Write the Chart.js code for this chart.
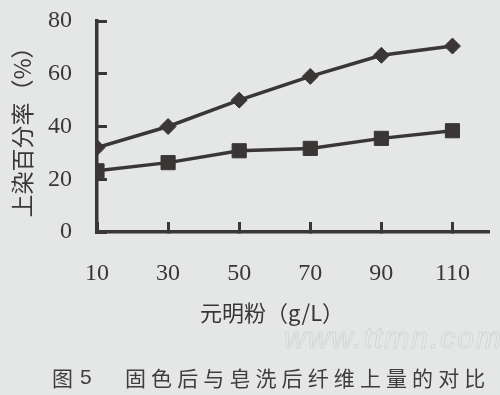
<!DOCTYPE html>
<html>
<head>
<meta charset="utf-8">
<script src="https://cdn.jsdelivr.net/npm/chart.js@4/dist/chart.umd.min.js"></script>
<style>
  html, body { margin: 0; padding: 0; background: #e4e7e6; }
  #wrap { position: relative; width: 500px; height: 395px; }
</style>
</head>
<body>
<div id="wrap"><canvas id="c" width="500" height="395"></canvas></div>
<script>
// ---- data ----
const xValues = [10, 30, 50, 70, 90, 110];
const afterFixing = [32, 40, 50, 59, 67, 70.5];      // diamonds
const afterSoaping = [23.2, 26.3, 30.8, 31.7, 35.5, 38.4]; // squares
const yTicks = [0, 20, 40, 60, 80];
const yTitle = '上染百分率（%）';
const xTitle = '元明粉（g/L）';
const captionLabel = '图';
const captionNum = '5';
const captionText = '固色后与皂洗后纤维上量的对比';
const watermark = 'www.ttmn.com';

const ink = '#3a3636';

const textPlugin = {
  id: 'extraText',
  afterDraw(chart) {
    const ctx = chart.ctx;
    ctx.save();
    ctx.fillStyle = ink;
    ctx.textBaseline = 'middle';
    // x axis title
    ctx.font = '22px "Noto Sans CJK SC"';
    ctx.textAlign = 'center';
    ctx.fillText(xTitle, 272, 313);
    // watermark
    ctx.font = 'italic 30px "Liberation Sans"';
    ctx.textAlign = 'left';
    ctx.letterSpacing = '2px';
    ctx.strokeStyle = '#d3d6d6';
    ctx.lineWidth = 1;
    ctx.fillStyle = '#eaeceb';
    ctx.fillText(watermark, 284, 340);
    ctx.strokeText(watermark, 284, 340);
    // caption
    ctx.fillStyle = '#403c3c';
    ctx.letterSpacing = '0px';
    ctx.font = '21px "Noto Sans CJK SC"';
    ctx.fillText(captionLabel, 52, 378);
    ctx.font = '21px "Liberation Sans"';
    ctx.fillText(captionNum, 80, 378);
    ctx.font = '21px "Noto Sans CJK SC"';
    ctx.letterSpacing = '5.1px';
    ctx.fillText(captionText, 125, 378);
    ctx.restore();
  }
};

new Chart(document.getElementById('c'), {
  type: 'line',
  data: {
    datasets: [
      {
        label: '固色后',
        data: xValues.map((x, i) => ({ x: x, y: afterFixing[i] })),
        borderColor: ink,
        backgroundColor: ink,
        borderWidth: 3.5,
        pointStyle: 'rectRot',
        pointRadius: 8,
        pointBorderWidth: 1,
        tension: 0
      },
      {
        label: '皂洗后',
        data: xValues.map((x, i) => ({ x: x, y: afterSoaping[i] })),
        borderColor: ink,
        backgroundColor: ink,
        borderWidth: 3.5,
        pointStyle: 'rect',
        pointRadius: 10,
        pointBorderWidth: 1,
        tension: 0
      }
    ]
  },
  options: {
    responsive: false,
    animation: false,
    devicePixelRatio: 1,
    layout: { padding: { top: 21, right: 12, left: 0, bottom: 0 } },
    plugins: { legend: { display: false }, tooltip: { enabled: false }, title: { display: false } },
    scales: {
      x: {
        type: 'linear',
        min: 10,
        max: 120,
        afterBuildTicks(scale) { scale.ticks = xValues.map(v => ({ value: v })); },
        afterFit(scale) { scale.height = 163; scale.paddingLeft = 0; scale.paddingRight = 0; },
        border: { color: ink, width: 3.5 },
        grid: { drawOnChartArea: false, drawTicks: true, tickLength: -10, color: ink, lineWidth: 3 },
        ticks: {
          color: ink,
          padding: 37,
          maxRotation: 0,
          font: { family: '"Liberation Serif"', size: 24 }
        }
      },
      y: {
        min: 0,
        max: 80,
        afterBuildTicks(scale) { scale.ticks = yTicks.map(v => ({ value: v })); },
        afterFit(scale) { scale.width = 97; scale.paddingTop = 0; scale.paddingBottom = 0; },
        border: { color: ink, width: 3.5 },
        grid: { drawOnChartArea: false, drawTicks: true, tickLength: -10, color: ink, lineWidth: 3 },
        ticks: {
          color: ink,
          padding: 35,
          font: { family: '"Liberation Serif"', size: 24 }
        },
        title: {
          display: true,
          text: yTitle,
          color: ink,
          font: { family: '"Noto Sans CJK SC"', size: 23 },
          padding: { top: 8, bottom: 0 }
        }
      }
    }
  },
  plugins: [textPlugin]
});
</script>
</body>
</html>
